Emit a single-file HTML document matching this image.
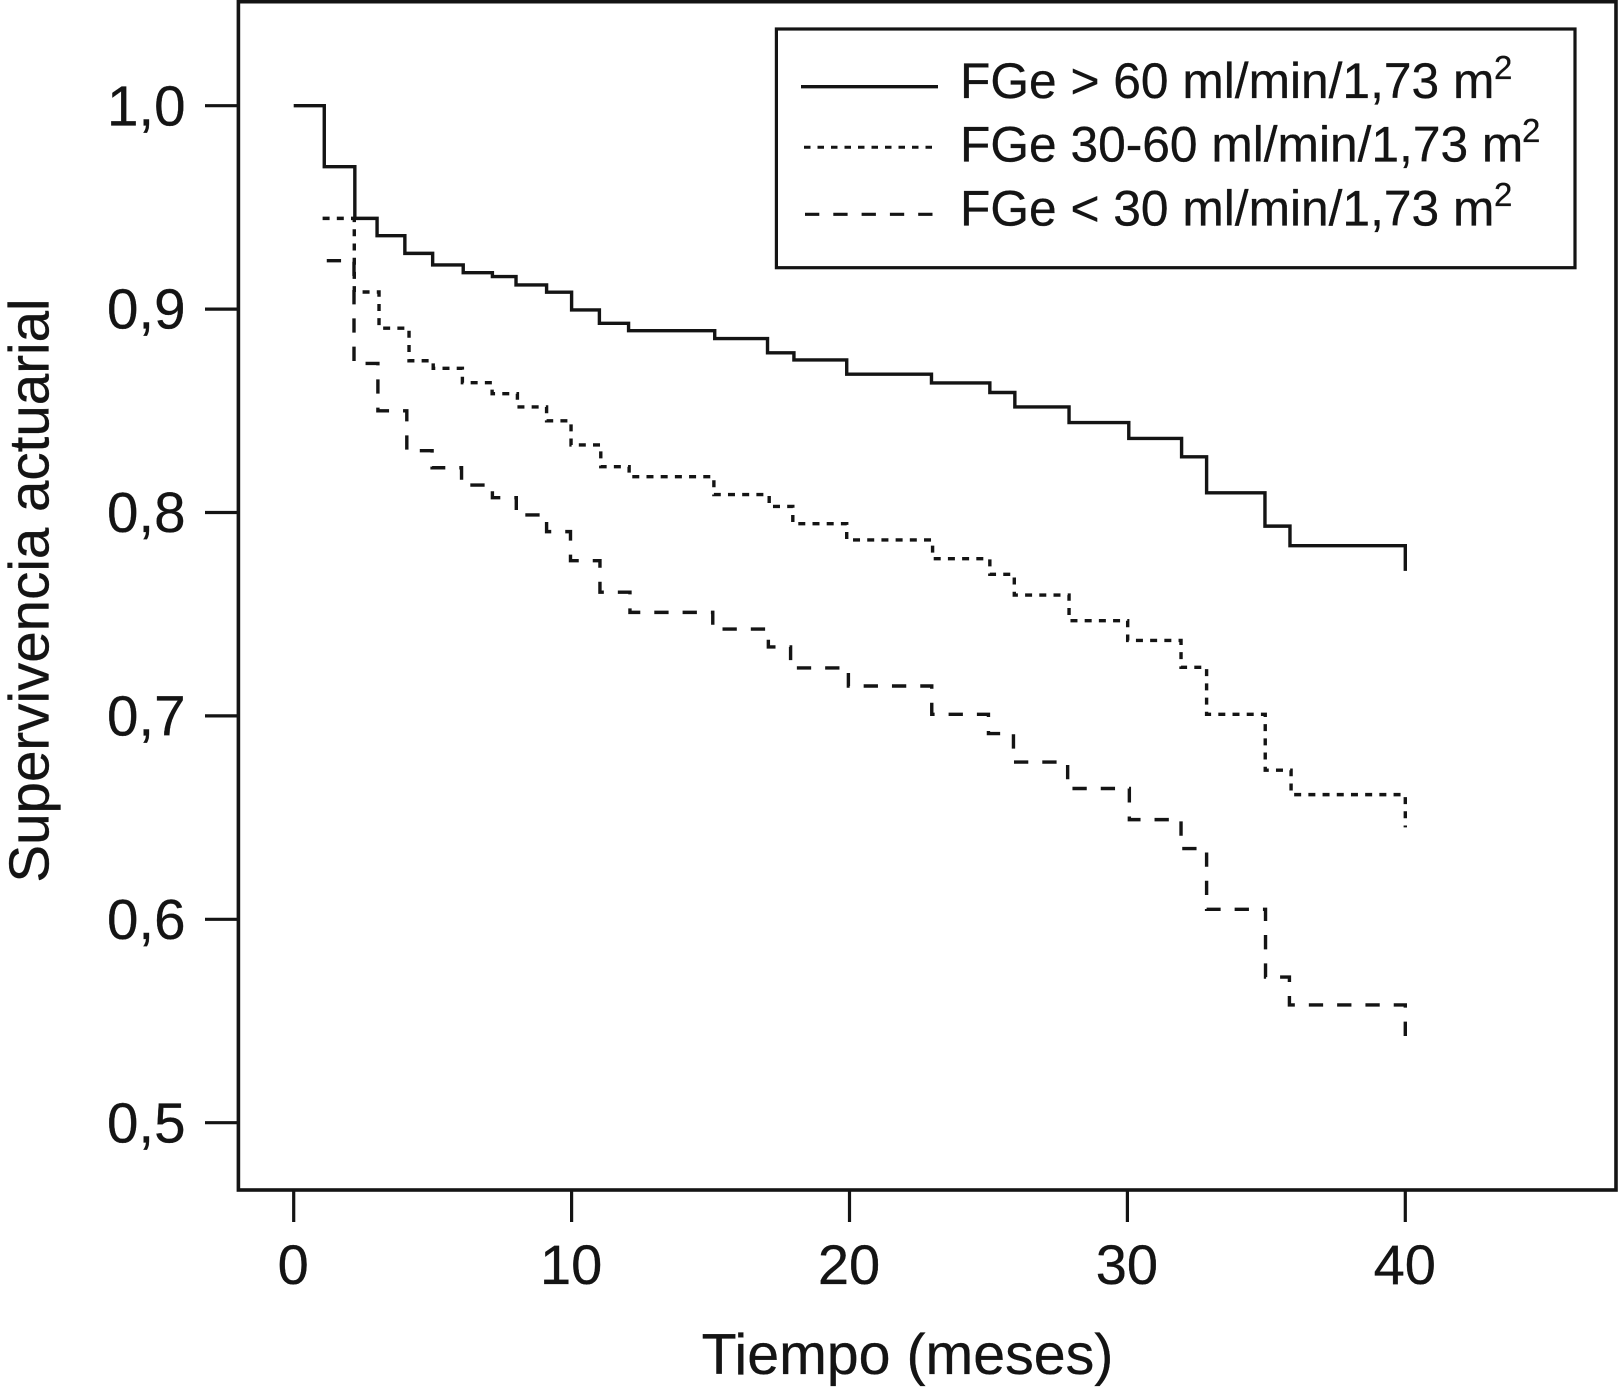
<!DOCTYPE html>
<html lang="es">
<head>
<meta charset="utf-8">
<title>Supervivencia actuarial</title>
<style>
html,body{margin:0;padding:0;background:#fff;}
svg{display:block;font-family:"Liberation Sans",Arial,sans-serif;fill:#141414;}
svg text{stroke:#141414;stroke-width:0.3px;}
</style>
</head>
<body>
<svg id="chart" xmlns="http://www.w3.org/2000/svg" width="1618" height="1392" viewBox="0 0 1618 1392">
  <rect x="0" y="0" width="1618" height="1392" fill="#fff"></rect>
  <rect x="238.4" y="1.7" width="1377.6" height="1188.3" fill="none" stroke="#141414" stroke-width="3.6"></rect>
  <g id="axes"></g>
  <g id="series"></g>
  <text x="907.5" y="1374" font-size="57.3" text-anchor="middle">Tiempo (meses)</text>
  <text transform="translate(48.5,590.5) rotate(-90)" font-size="56.5" text-anchor="middle">Supervivencia actuarial</text>
  <g>
    <rect x="776.4" y="29" width="798.6" height="238.7" fill="#fff" stroke="#141414" stroke-width="3.2"></rect>
    <line x1="801" y1="86.7" x2="938" y2="86.7" stroke="#141414" stroke-width="3.4"></line>
    <text x="960" y="98" font-size="49.7">FGe &gt; 60 ml/min/1,73 m</text>
    <text x="1494" y="79" font-size="33">2</text>
    <line x1="804" y1="147.3" x2="939" y2="147.3" stroke="#141414" stroke-width="3" stroke-dasharray="6.5 7"></line>
    <text x="960" y="161.7" font-size="49.7">FGe 30-60 ml/min/1,73 m</text>
    <text x="1522" y="142" font-size="33">2</text>
    <line x1="805" y1="214.3" x2="934" y2="214.3" stroke="#141414" stroke-width="3.2" stroke-dasharray="14.3 14"></line>
    <text x="960" y="225.7" font-size="49.7">FGe &lt; 30 ml/min/1,73 m</text>
    <text x="1494" y="206" font-size="33">2</text>
  </g>
</svg>
<script>
const xTicks = [0, 10, 20, 30, 40];
const yTicks = [1.0, 0.9, 0.8, 0.7, 0.6, 0.5];
const yTickLabels = ["1,0", "0,9", "0,8", "0,7", "0,6", "0,5"];

const highTime = [0, 1.1, 2.2, 3.0, 4.0, 5.0, 6.1, 7.15, 8.0, 9.1, 10.0, 11.0, 12.05, 15.15, 17.05, 18.0, 19.9, 22.95, 25.05, 25.95, 27.9, 30.05, 31.95, 32.85, 34.95, 35.85, 40];
const highSurv = [1.0, 0.970, 0.9446, 0.9361, 0.9274, 0.9217, 0.9179, 0.916, 0.9119, 0.9083, 0.8996, 0.893, 0.8894, 0.8855, 0.8785, 0.875, 0.868, 0.8637, 0.859, 0.8519, 0.8442, 0.8364, 0.8274, 0.8097, 0.7933, 0.7837, 0.7713];

const midTime = [1.04, 2.18, 3.07, 4.15, 5.02, 6.07, 7.14, 8.05, 9.1, 9.98, 11.05, 12.07, 15.12, 17.11, 17.96, 19.9, 22.99, 25.05, 25.93, 27.9, 30.01, 31.93, 32.85, 34.96, 35.89, 40];
const midSurv = [0.9446, 0.9084, 0.8906, 0.8746, 0.8709, 0.8638, 0.8584, 0.8519, 0.8451, 0.8332, 0.8225, 0.8176, 0.8088, 0.803, 0.7945, 0.7865, 0.7773, 0.7696, 0.7594, 0.7468, 0.7371, 0.7239, 0.7008, 0.6733, 0.6613, 0.6452];

const lowTime = [1.19, 2.17, 3.03, 4.07, 4.98, 6.04, 7.15, 8.01, 9.1, 9.96, 11.02, 12.1, 15.08, 17.08, 17.88, 19.96, 22.96, 25.0, 25.9, 27.85, 30.07, 31.93, 32.85, 34.97, 35.83, 40];
const lowSurv = [0.9238, 0.8733, 0.85, 0.8304, 0.822, 0.8135, 0.8073, 0.7988, 0.7906, 0.7763, 0.7608, 0.7509, 0.7427, 0.7339, 0.7236, 0.7147, 0.7008, 0.6913, 0.6773, 0.6643, 0.649, 0.6348, 0.6049, 0.5716, 0.5579, 0.5426];

const NS = "http://www.w3.org/2000/svg";
const xScale = function (t) { return 293.7 + 27.79 * t; };
const yScale = function (v) { return 105.7 + (1 - v) * 2034; };

const axes = document.getElementById("axes");
xTicks.forEach(function (t) {
  const tick = document.createElementNS(NS, "line");
  tick.setAttribute("x1", xScale(t));
  tick.setAttribute("x2", xScale(t));
  tick.setAttribute("y1", 1190);
  tick.setAttribute("y2", 1222);
  tick.setAttribute("stroke", "#141414");
  tick.setAttribute("stroke-width", "3.2");
  
  
  axes.appendChild(tick);
  const label = document.createElementNS(NS, "text");
  label.setAttribute("x", xScale(t) - 0.5);
  label.setAttribute("y", 1284);
  label.setAttribute("font-size", "56");
  label.setAttribute("text-anchor", "middle");
  label.textContent = String(t);
  
  
  axes.appendChild(label);
});
yTicks.forEach(function (v, i) {
  const tick = document.createElementNS(NS, "line");
  tick.setAttribute("x1", 205);
  tick.setAttribute("x2", 238.4);
  tick.setAttribute("y1", yScale(v));
  tick.setAttribute("y2", yScale(v));
  tick.setAttribute("stroke", "#141414");
  tick.setAttribute("stroke-width", "3.2");
  
  
  axes.appendChild(tick);
  const label = document.createElementNS(NS, "text");
  label.setAttribute("x", 185.5);
  label.setAttribute("y", yScale(v) + 19.6);
  label.setAttribute("font-size", "56.5");
  label.setAttribute("text-anchor", "end");
  label.textContent = yTickLabels[i];
  
  
  axes.appendChild(label);
});

function stepPath(times, values) {
  let d = "M" + xScale(times[0]).toFixed(2) + " " + yScale(values[0]).toFixed(2);
  for (let i = 1; i < times.length; i++) {
    d += "H" + xScale(times[i]).toFixed(2) + "V" + yScale(values[i]).toFixed(2);
  }
  return d;
}

const seriesGroup = document.getElementById("series");

const highPath = document.createElementNS(NS, "path");
highPath.setAttribute("d", stepPath(highTime, highSurv));
highPath.setAttribute("fill", "none");
highPath.setAttribute("stroke", "#141414");
highPath.setAttribute("stroke-width", "3.4");


seriesGroup.appendChild(highPath);

const midPath = document.createElementNS(NS, "path");
midPath.setAttribute("d", stepPath(midTime, midSurv));
midPath.setAttribute("fill", "none");
midPath.setAttribute("stroke", "#141414");
midPath.setAttribute("stroke-width", "3.4");
midPath.setAttribute("stroke-dasharray", "7 7.2");


seriesGroup.appendChild(midPath);

const lowPath = document.createElementNS(NS, "path");
lowPath.setAttribute("d", stepPath(lowTime, lowSurv));
lowPath.setAttribute("fill", "none");
lowPath.setAttribute("stroke", "#141414");
lowPath.setAttribute("stroke-width", "3.4");
lowPath.setAttribute("stroke-dasharray", "14.3 14");


seriesGroup.appendChild(lowPath);
</script>
</body>
</html>
